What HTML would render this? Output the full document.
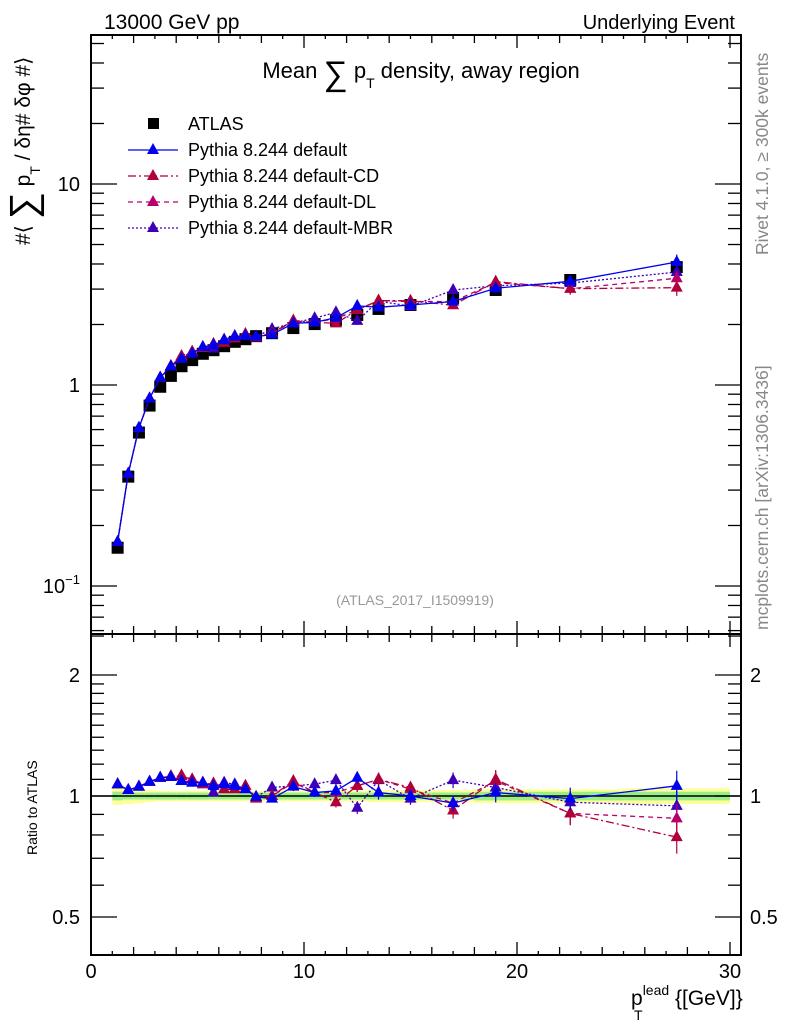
<!DOCTYPE html>
<html><head><meta charset="utf-8"><style>
body{margin:0;background:#fff;}
svg{display:block;font-family:"Liberation Sans",Arial,sans-serif;}
</style></head><body>
<svg id="c" width="786" height="1024" xmlns="http://www.w3.org/2000/svg">
<rect width="786" height="1024" fill="#fff"/>
<text x="104" y="29" font-size="21">13000 GeV pp</text>
<text x="735" y="29" font-size="20" text-anchor="end">Underlying Event</text>
<text x="421" y="78" font-size="22" text-anchor="middle">Mean <tspan font-size="34" dy="7">∑</tspan><tspan dy="-7"> p</tspan><tspan font-size="14" dy="10">T</tspan><tspan dy="-10"> density, away region</tspan></text>
<text transform="translate(768,255) rotate(-90)" font-size="17.5" fill="#888">Rivet 4.1.0, ≥ 300k events</text>
<text transform="translate(768,630) rotate(-90)" font-size="17.5" fill="#888">mcplots.cern.ch [arXiv:1306.3436]</text>
<text x="415" y="605" font-size="14" fill="#999" text-anchor="middle">(ATLAS_2017_I1509919)</text>
<text transform="translate(30,245) rotate(-90)" font-size="21">#⟨ <tspan font-size="38" dy="6">∑</tspan><tspan dy="-6"> p</tspan><tspan font-size="14" dy="10">T</tspan><tspan dy="-10"> / δη# δφ #⟩</tspan></text>
<text transform="translate(37,855) rotate(-90)" font-size="14">Ratio to ATLAS</text>
<text x="631" y="1005" font-size="21">p<tspan font-size="14" dy="-10">lead</tspan><tspan font-size="21" dy="10"> {[GeV]}</tspan></text>
<text x="634" y="1020" font-size="14">T</text>
<g id="g"></g>
</svg>
<script>
const xs=[1.25,1.75,2.25,2.75,3.25,3.75,4.25,4.75,5.25,5.75,6.25,6.75,7.25,7.75,8.5,9.5,10.5,11.5,12.5,13.5,15,17,19,22.5,27.5];
const atlas=[0.155,0.35,0.58,0.79,0.98,1.11,1.24,1.33,1.43,1.49,1.56,1.64,1.69,1.75,1.81,1.92,2.01,2.1,2.23,2.39,2.5,2.71,2.97,3.33,3.86];
const ratioDefault=[1.07,1.035,1.055,1.085,1.11,1.115,1.09,1.08,1.08,1.06,1.07,1.06,1.04,0.995,0.985,1.055,1.02,1.03,1.11,1.02,1.0,0.96,1.02,0.985,1.06];
const ratioCD=[1.07,1.035,1.055,1.085,1.11,1.12,1.125,1.10,1.07,1.075,1.04,1.04,1.06,0.985,1.0,1.09,1.02,0.965,1.06,1.10,1.05,0.92,1.10,0.905,0.79];
const ratioDL=[1.07,1.035,1.055,1.085,1.11,1.12,1.12,1.10,1.07,1.07,1.04,1.04,1.06,0.99,1.0,1.08,1.02,1.02,1.06,1.10,1.04,0.96,1.09,0.905,0.88];
const ratioMBR=[1.07,1.035,1.055,1.085,1.11,1.115,1.09,1.08,1.08,1.02,1.08,1.07,1.04,0.995,1.05,1.06,1.07,1.095,0.935,1.095,0.985,1.095,1.05,0.965,0.945];
const mcErr=[0.01,0.01,0.01,0.01,0.01,0.01,0.01,0.01,0.012,0.012,0.015,0.015,0.015,0.015,0.02,0.025,0.025,0.03,0.035,0.04,0.035,0.045,0.055,0.065,0.09];
const bandInner=[0.025,0.02,0.02,0.02,0.02,0.02,0.02,0.02,0.02,0.02,0.02,0.02,0.02,0.02,0.02,0.02,0.02,0.02,0.02,0.02,0.02,0.02,0.025,0.025,0.025];
const bandOuter=[0.05,0.045,0.04,0.035,0.03,0.03,0.03,0.03,0.03,0.03,0.03,0.03,0.03,0.03,0.03,0.03,0.03,0.03,0.03,0.035,0.035,0.035,0.04,0.04,0.045];
const binEdges=[1,1.5,2,2.5,3,3.5,4,4.5,5,5.5,6,6.5,7,7.5,8,9,10,11,12,13,14,16,18,20,25,30];
const mainTicks=[["10^-1",0.1],["1",1],["10",10]];
const ratioTicks=[["0.5",0.5],["1",1],["2",2]];
const xTickLabels=[0,10,20,30];

const L=91,R=741,T=35,MB=634,RB=955;
const X=v=>L+v*(730-L)/30;
const YM=v=>385-201*Math.log10(v);
const YR=v=>796-402*Math.log10(v);
const g=document.getElementById('g');
const NS='http://www.w3.org/2000/svg';
function el(t,a,p){const e=document.createElementNS(NS,t);for(const k in a)e.setAttribute(k,a[k]);(p||g).appendChild(e);return e;}

for(let i=0;i<xs.length;i++){
  const x0=X(binEdges[i]),x1=X(binEdges[i+1]);
  const b=el('rect',{x:x0,y:YR(1+bandOuter[i]),width:x1-x0,height:YR(1-bandOuter[i])-YR(1+bandOuter[i]),fill:'#ffff99'});
  
  
  const c=el('rect',{x:x0,y:YR(1+bandInner[i]),width:x1-x0,height:YR(1-bandInner[i])-YR(1+bandInner[i]),fill:'#99ee88'});
  
  
}
const one=el('line',{x1:L,x2:R,y1:YR(1),y2:YR(1),stroke:'#000','stroke-width':1.5});



const series=[
 {n:'default',r:ratioDefault,c:'#0000ee',d:''},
 {n:'cd',r:ratioCD,c:'#b0003a',d:'8,3,2,3'},
 {n:'dl',r:ratioDL,c:'#b8006a',d:'5,4'},
 {n:'mbr',r:ratioMBR,c:'#3d00b8',d:'2,2'}
];
function tri(x,y,c,name){
  const t=el('polygon',{points:`${x},${y-7} ${x-6},${y+4} ${x+6},${y+4}`,fill:c});
  
  
}
series.slice().reverse().forEach(s=>{
  const vals=xs.map((x,i)=>atlas[i]*s.r[i]);
  const lm=el('polyline',{points:xs.map((x,i)=>X(x)+','+YM(vals[i])).join(' '),fill:'none',stroke:s.c,'stroke-width':1.3,'stroke-dasharray':s.d});
  
  
  const lr=el('polyline',{points:xs.map((x,i)=>X(x)+','+YR(s.r[i])).join(' '),fill:'none',stroke:s.c,'stroke-width':1.3,'stroke-dasharray':s.d});
  
  
  xs.forEach((x,i)=>{
    const e=mcErr[i];
    if(e>0.012){
      const eb=el('line',{x1:X(x),x2:X(x),y1:YM(vals[i]*(1+e)),y2:YM(vals[i]*(1-e)),stroke:s.c,'stroke-width':1.2});
      
      
      const er=el('line',{x1:X(x),x2:X(x),y1:YR(s.r[i]*(1+e)),y2:YR(s.r[i]*(1-e)),stroke:s.c,'stroke-width':1.2});
      
      
    }
    tri(X(x),YM(vals[i]),s.c,'marker-'+s.n);
    tri(X(x),YR(s.r[i]),s.c,'ratio-marker-'+s.n);
  });
});
xs.forEach((x,i)=>{
  const s=el('rect',{x:X(x)-6,y:YM(atlas[i])-6,width:12,height:12,fill:'#000'});
  
  
  g.insertBefore(s,g.firstChild);
});

const f1=el('rect',{x:L,y:T,width:R-L,height:MB-T,fill:'none',stroke:'#000','stroke-width':2});


const f2=el('rect',{x:L,y:MB,width:R-L,height:RB-MB,fill:'none',stroke:'#000','stroke-width':2});



for(let v=0;v<=30;v++){
  const len=v%10===0?13:(v%2===0?8:4);
  [T,MB].forEach(y0=>{el('line',{x1:X(v),x2:X(v),y1:y0,y2:y0+len,stroke:'#000','stroke-width':1.3});});
  [MB,RB].forEach(y0=>{el('line',{x1:X(v),x2:X(v),y1:y0,y2:y0-len,stroke:'#000','stroke-width':1.3});});
}
xTickLabels.forEach(v=>{
  const t=el('text',{x:X(v),y:978,'font-size':20,'text-anchor':'middle'});t.textContent=v;
  
  
});
[0.06,0.07,0.08,0.09,0.1,0.2,0.3,0.4,0.5,0.6,0.7,0.8,0.9,1,2,3,4,5,6,7,8,9,10,20,30,40,50].forEach(v=>{
  const y=YM(v);if(y<T||y>MB)return;
  const maj=Math.abs(Math.log10(v)%1)<1e-6;const len=maj?26:13;
  el('line',{x1:L,x2:L+len,y1:y,y2:y,stroke:'#000','stroke-width':1.3});
  el('line',{x1:R,x2:R-len,y1:y,y2:y,stroke:'#000','stroke-width':1.3});
});
mainTicks.forEach(([s,v])=>{
  const t=el('text',{x:80,y:YM(v)+7,'font-size':20,'text-anchor':'end'});
  if(s==='10^-1'){t.innerHTML='10<tspan font-size="13" dy="-9">−1</tspan>';}else t.textContent=s;
  
  
});
[0.4,0.5,0.6,0.7,0.8,0.9,1,1.1,1.2,1.3,1.4,1.5,1.6,1.7,1.8,1.9,2,2.5].forEach(v=>{
  const y=YR(v);if(y<MB||y>RB)return;
  const maj=(v===0.5||v===1||v===2);const len=maj?26:13;
  el('line',{x1:L,x2:L+len,y1:y,y2:y,stroke:'#000','stroke-width':1.3});
  el('line',{x1:R,x2:R-len,y1:y,y2:y,stroke:'#000','stroke-width':1.3});
});
ratioTicks.forEach(([s,v])=>{
  const t=el('text',{x:80,y:YR(v)+7,'font-size':20,'text-anchor':'end'});t.textContent=s;
  
  
  const t2=el('text',{x:750,y:YR(v)+7,'font-size':20});t2.textContent=s;
  
  
});

const leg=[['ATLAS','#000','',true],['Pythia 8.244 default','#0000ee',''],['Pythia 8.244 default-CD','#b0003a','8,3,2,3'],['Pythia 8.244 default-DL','#b8006a','5,4'],['Pythia 8.244 default-MBR','#3d00b8','2,2']];
leg.forEach((l,i)=>{
  const y=124+i*26;
  if(l[3]){const r=el('rect',{x:148,y:y-6,width:11,height:11,fill:'#000'});}
  else{
    const ln=el('line',{x1:128,x2:178,y1:y,y2:y,stroke:l[1],'stroke-width':1.3,'stroke-dasharray':l[2]});
    
    
    tri(153,y,l[1],'legend-marker');
  }
  const t=el('text',{x:188,y:y+6,'font-size':18});t.textContent=l[0];
  
  
});
</script>
</body></html>
